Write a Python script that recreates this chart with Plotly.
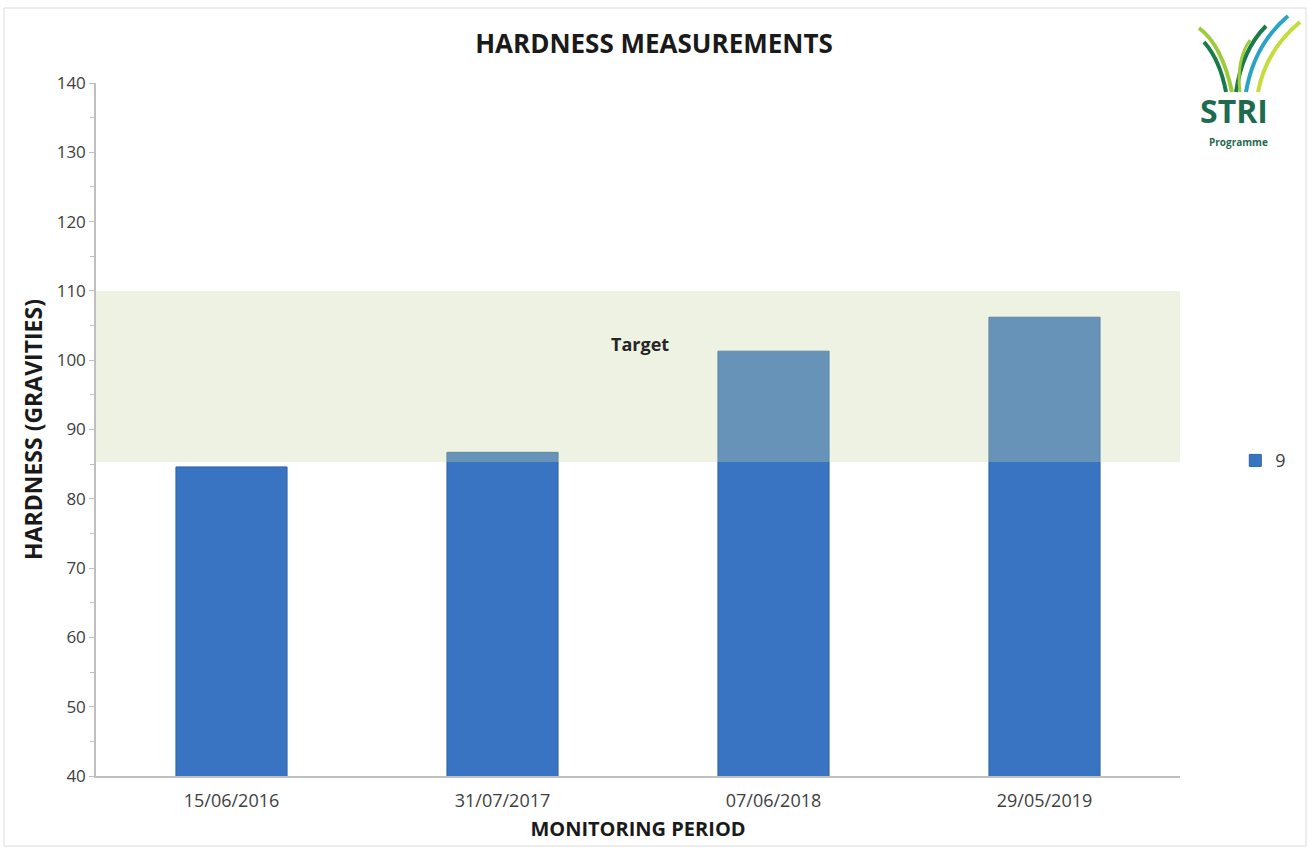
import plotly.graph_objects as go

dates = ["15/06/2016", "31/07/2017", "07/06/2018", "29/05/2019"]
hardness = [84.6, 86.7, 101.3, 106.2]
series_name = "9"
target_low = 85.3
target_high = 110
y_range = [40, 140]

# plot-area geometry (pixels) used only to place decorations
PL, PR, PT, PB = 96, 1180, 83, 776


def px(x, y):
    return (x - PL) / (PR - PL), (PB - y) / (PB - PT)


fig = go.Figure()
fig.add_trace(go.Bar(
    x=dates, y=hardness, name=series_name,
    marker=dict(color="#3874c2", line=dict(color="#2f63a6", width=1)),
    width=0.41, showlegend=True,
))

# target band overlay (semi-transparent, above bars)
fig.add_shape(type="rect", xref="paper", yref="y", x0=0, x1=1,
              y0=target_low, y1=target_high, layer="above",
              fillcolor="rgb(202,214,164)", opacity=0.32, line_width=0)

fig.add_annotation(x=0.502, xref="paper", y=102.3, yref="y", text="<b>Target</b>",
                   xanchor="center", yanchor="middle",
                   showarrow=False, font=dict(size=18, color="#262626", family="Open Sans"))

# outer border
bx0, by0 = px(4, 846)
bx1, by1 = px(1306, 8)
fig.add_shape(type="rect", xref="paper", yref="paper", x0=bx0, x1=bx1,
              y0=by0, y1=by1, line=dict(color="#dcdcdc", width=1), layer="below")

# logo approximation: grass blades + text
blades = [
    ((1199, 28), (1222, 45), (1232, 92), "#9ccb3b", 4),
    ((1204, 42), (1220, 60), (1226, 92), "#1b7a4a", 4),
    ((1236, 92), (1242, 50), (1266, 26), "#1b7a4a", 4),
    ((1246, 92), (1254, 45), (1288, 16), "#2ba3c6", 4),
    ((1258, 92), (1266, 50), (1300, 22), "#c6db3c", 4),
    ((1240, 92), (1236, 60), (1250, 40), "#9ccb3b", 3),
]
for p0, c, p1, col, w in blades:
    a = px(*p0)
    b = px(*c)
    d = px(*p1)
    path = f"M {a[0]},{a[1]} Q {b[0]},{b[1]} {d[0]},{d[1]}"
    fig.add_shape(type="path", xref="paper", yref="paper", path=path,
                  line=dict(color=col, width=w))

sx, sy = px(1234, 110)
fig.add_annotation(x=sx, xref="paper", y=sy, yref="paper", text="<b>STRI</b>",
                   xanchor="center", yanchor="middle",
                   showarrow=False, font=dict(size=32, color="#1f6b4f", family="Open Sans"))
gx, gy = px(1238, 142)
fig.add_annotation(x=gx, xref="paper", y=gy, yref="paper", text="<b>Programme</b>",
                   xanchor="center", yanchor="middle",
                   showarrow=False, font=dict(size=10, color="#1f6b4f", family="Open Sans"))

fig.update_layout(
    width=1308, height=849,
    margin=dict(l=PL, r=1308 - PR, t=PT, b=849 - PB),
    paper_bgcolor="white", plot_bgcolor="white",
    title=dict(text="<b>HARDNESS MEASUREMENTS</b>", x=0.5, xanchor="center",
               y=1 - 44 / 849, yanchor="middle",
               font=dict(size=26, color="#1a1a1a", family="Open Sans")),
    font=dict(family="Open Sans", color="#404040", size=17),
    bargap=0.59,
    showlegend=True,
    legend=dict(x=1.051, y=0.455, xanchor="left", yanchor="middle",
                font=dict(size=18, color="#404040"), bgcolor="rgba(0,0,0,0)"),
    xaxis=dict(
        showline=True, linecolor="#bfbfbf", linewidth=1.5,
        ticks="outside", ticklen=8, tickcolor="rgba(0,0,0,0)",
        tickfont=dict(size=18, color="#404040"),
        title=dict(text="<b>MONITORING PERIOD</b>", font=dict(size=20, color="#1a1a1a"), standoff=11),
        showgrid=False, automargin=False,
    ),
    yaxis=dict(
        range=y_range, dtick=10, tick0=40,
        showline=True, linecolor="#bfbfbf", linewidth=1.5,
        ticks="outside", ticklen=5, tickcolor="#bfbfbf",
        minor=dict(dtick=5, ticks="outside", ticklen=4, tickcolor="#bfbfbf"),
        tickfont=dict(size=17, color="#404040"),
        title=dict(text="<b>HARDNESS (GRAVITIES)</b>", font=dict(size=23, color="#1a1a1a"), standoff=8),
        showgrid=False, zeroline=False, automargin=False,
    ),
)

fig.write_html("out.html")
